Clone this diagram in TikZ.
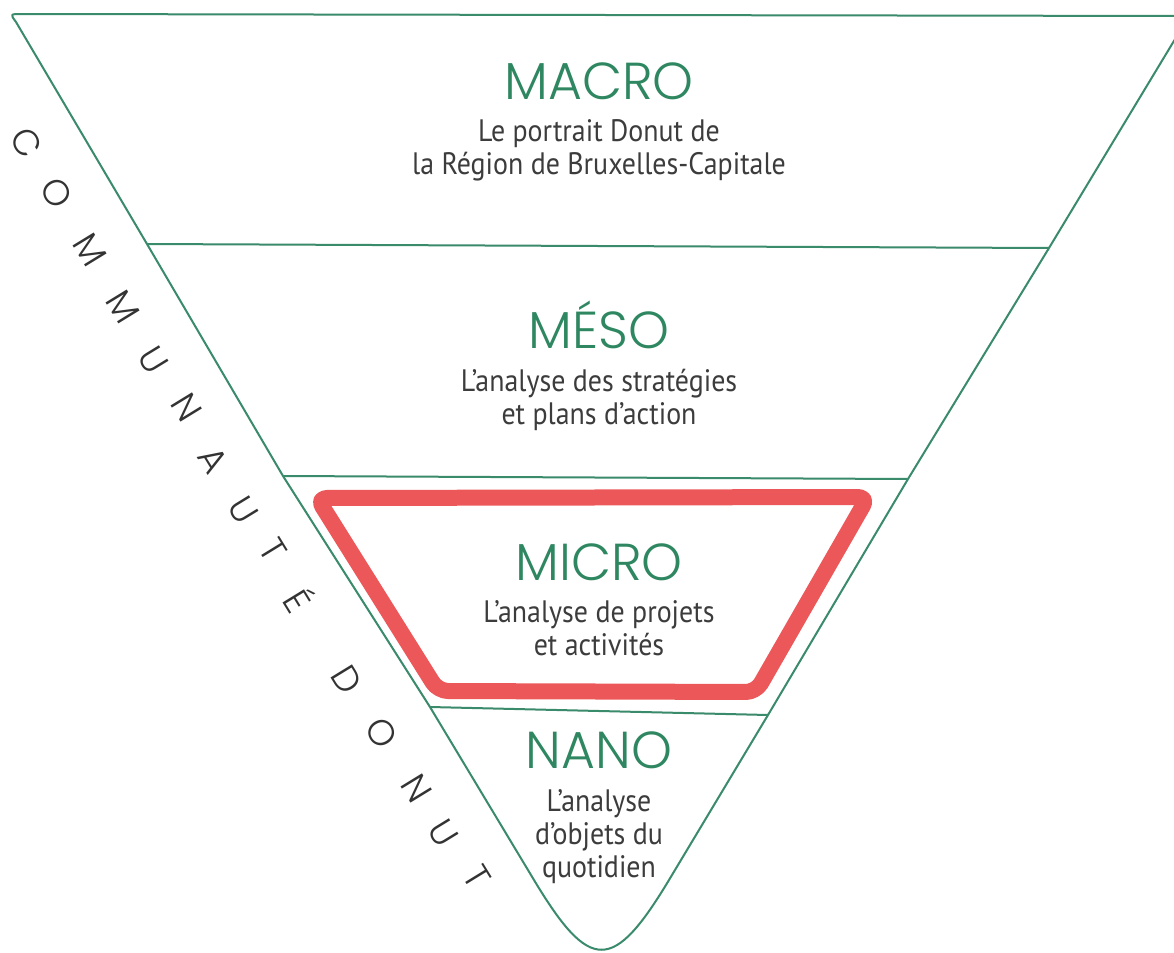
\documentclass[tikz,border=0pt]{standalone}
\usepackage{fontspec}
\setmainfont[FakeStretch=0.9]{PT Sans}
\newfontfamily\titlefont{Poppins Light}
\usepackage{xcolor}
\usepackage{tikz}
\definecolor{donutgreen}{RGB}{46,135,96}
\definecolor{linegreen}{RGB}{58,138,108}
\definecolor{donutred}{RGB}{236,88,90}
\definecolor{textgray}{RGB}{60,60,60}

\begin{document}
\begin{tikzpicture}[x=0.5pt,y=-0.5pt,
	outline/.style={linegreen,line width=1pt,line join=round},
	level/.style={donutgreen,anchor=base,inner sep=0pt,font=\titlefont\fontsize{26}{26}\selectfont},
	desc/.style={textgray,align=center,inner sep=0pt,font=\fontsize{15.5}{16.5}\selectfont},
	sideletter/.style={black!80,rotate=-58.5,font=\titlefont\fontsize{18}{18}\selectfont}]
	\useasboundingbox (0,0) rectangle (1174,953);
	\fill[white] (0,0) rectangle (1174,953);
	% funnel
	\draw[outline] (1189,16) -- (22,14) .. controls (10,14) .. (16,22) -- (147,244) -- (283,476) -- (430,707) -- (534,880) .. controls (590,973) and (613,973) .. (669,880) -- (768,715) -- (908,479) -- (1049,248) -- (1189,16);
	\draw[outline] (147,244) -- (1049,248);
	\draw[outline] (283,476) -- (908,479);
	\draw[outline] (430,707) -- (768,715);
	% highlighted level
	\draw[donutred,line width=8pt,line join=round,rounded corners=5pt] (317,498) -- (868,497) -- (756,692) -- (438,691) -- cycle;
	% levels
	\node[level] (macro) at (599,99) {MACRO};
	\node[desc] (macrotxt) at (599,150) {Le portrait Donut de\\la Région de Bruxelles-Capitale};
	\node[level] (meso) at (599,348) {MÉSO};
	\node[desc] (mesotxt) at (599,400) {L’analyse des stratégies\\et plans d’action};
	\node[level] (micro) at (599,580) {MICRO};
	\node[desc] (microtxt) at (599,628) {L’analyse de projets\\et activités};
	\node[level] (nano) at (599,768) {NANO};
	\node[desc] (nanotxt) at (599,837) {L’analyse\\d’objets du\\quotidien};
	% side label
	\foreach \ch/\px/\py [count=\i] in {C/27/143,O/57/193,M/90/250,M/123/307,U/153/360,N/187/407,A/213/460,U/243/510,T/273/550,É/300/600,D/347/680,O/382/733,N/417/788,U/443/833,T/477/877}
		\node[sideletter] (side\i) at (\px,\py) {\ch};
\end{tikzpicture}
\end{document}
